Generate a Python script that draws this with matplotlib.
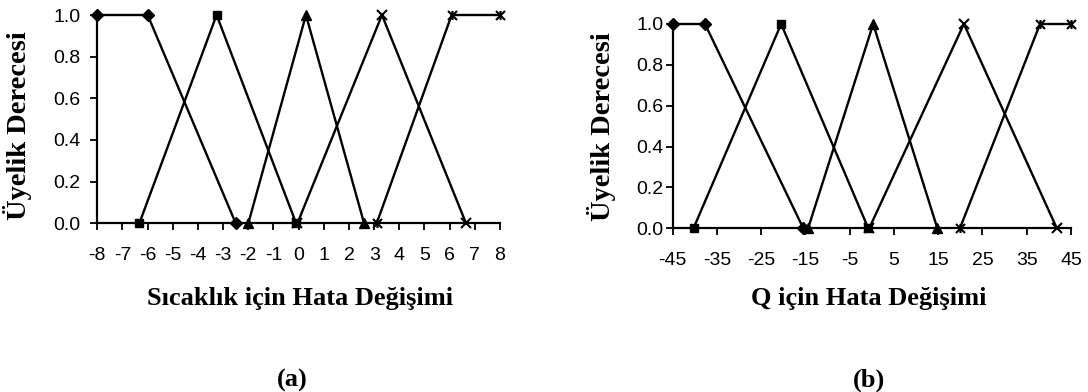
import matplotlib
matplotlib.use("Agg")
import matplotlib.pyplot as plt
from matplotlib.path import Path

# membership functions, left chart (Sıcaklık)
a_dia_x = [-8, -6, -2.5]
a_dia_y = [1, 1, 0]
a_sq_x = [-6.33, -3.26, -0.1]
a_sq_y = [0, 1, 0]
a_tri_x = [-2.0, 0.29, 2.6]
a_tri_y = [0, 1, 0]
a_x_x = [-0.05, 3.31, 6.65]
a_x_y = [0, 1, 0]
a_ast_x = [3.1, 6.08, 8]
a_ast_y = [0, 1, 1]

# right chart (Q)
b_dia_x = [-45, -37.7, -15.5]
b_dia_y = [1, 1, 0]
b_sq_x = [-40.3, -20.5, -0.8]
b_sq_y = [0, 1, 0]
b_tri_x = [-14.4, 0.3, 14.8]
b_tri_y = [0, 1, 0]
b_x_x = [-0.6, 20.8, 41.8]
b_x_y = [0, 1, 0]
b_ast_x = [19.9, 38, 45]
b_ast_y = [0, 1, 1]

a_xticks = list(range(-8, 9))
b_xticks = list(range(-45, 46, 10))
yticks = [0.0, 0.2, 0.4, 0.6, 0.8, 1.0]

plt.rcParams["axes.unicode_minus"] = False

# excel style star: x with a vertical bar
star = Path([(-1, -1), (1, 1), (-1, 1), (1, -1), (0, -1), (0, 1)],
            [Path.MOVETO, Path.LINETO, Path.MOVETO, Path.LINETO,
             Path.MOVETO, Path.LINETO])

W, H = 1088, 392
fig = plt.figure(figsize=(W / 100, H / 100), dpi=100)

tick_font = "Liberation Sans"
lab_font = "Liberation Serif"


def draw(ax, series, xlim, xticks, ypad):
    for xs, ys, m, ms in series:
        kw = dict(color="black", lw=1.7, marker=m, markersize=ms, clip_on=False)
        if m in ("x", star):
            kw["markerfacecolor"] = "none"
            kw["markeredgewidth"] = 1.5
        ax.plot(xs, ys, **kw)
    ax.set_xlim(*xlim)
    ax.set_ylim(0, 1)
    ax.set_xticks(xticks)
    ax.set_yticks(yticks)
    ax.set_yticklabels([f"{v:.1f}" for v in yticks])
    for s in ("top", "right"):
        ax.spines[s].set_visible(False)
    for s in ("left", "bottom"):
        ax.spines[s].set_linewidth(1.6)
    ax.tick_params(axis="x", direction="out", length=5, width=1.3, pad=12)
    ax.tick_params(axis="y", direction="out", length=5, width=1.3, pad=ypad)
    for t in ax.get_xticklabels() + ax.get_yticklabels():
        t.set_fontfamily(tick_font)
        t.set_fontsize(14)


ax1 = fig.add_axes([97.3 / W, 1 - 223.3 / H, 402.7 / W, 208.3 / H])
draw(ax1, [(a_dia_x, a_dia_y, "D", 6), (a_sq_x, a_sq_y, "s", 5.5),
           (a_tri_x, a_tri_y, "^", 6.5), (a_x_x, a_x_y, "x", 7),
           (a_ast_x, a_ast_y, star, 6.5)],
     (-8, 8), a_xticks, 7)

ax2 = fig.add_axes([672.7 / W, 1 - 228.3 / H, 398.3 / W, 204.3 / H])
draw(ax2, [(b_dia_x, b_dia_y, "D", 6), (b_sq_x, b_sq_y, "s", 5.5),
           (b_tri_x, b_tri_y, "^", 6.5), (b_x_x, b_x_y, "x", 7),
           (b_ast_x, b_ast_y, star, 6.5)],
     (-45, 45), b_xticks, 1.5)

lab = dict(family=lab_font, weight="bold", fontsize=19, ha="center", va="center")
ylab = dict(lab, fontsize=20.5)
fig.text(18 / W, 1 - 126 / H, "Üyelik Derecesi", rotation=90, **ylab)
fig.text(602 / W, 1 - 127 / H, "Üyelik Derecesi", rotation=90, **ylab)
fig.text(300 / W, 1 - 298 / H, "Sıcaklık için Hata Değişimi", **lab)
fig.text(869 / W, 1 - 298 / H, "Q için Hata Değişimi", **lab)
fig.text(292 / W, 1 - 380 / H, "(a)", **lab)
fig.text(869 / W, 1 - 380 / H, "(b)", **lab)

fig.savefig("out.png", dpi=100)
